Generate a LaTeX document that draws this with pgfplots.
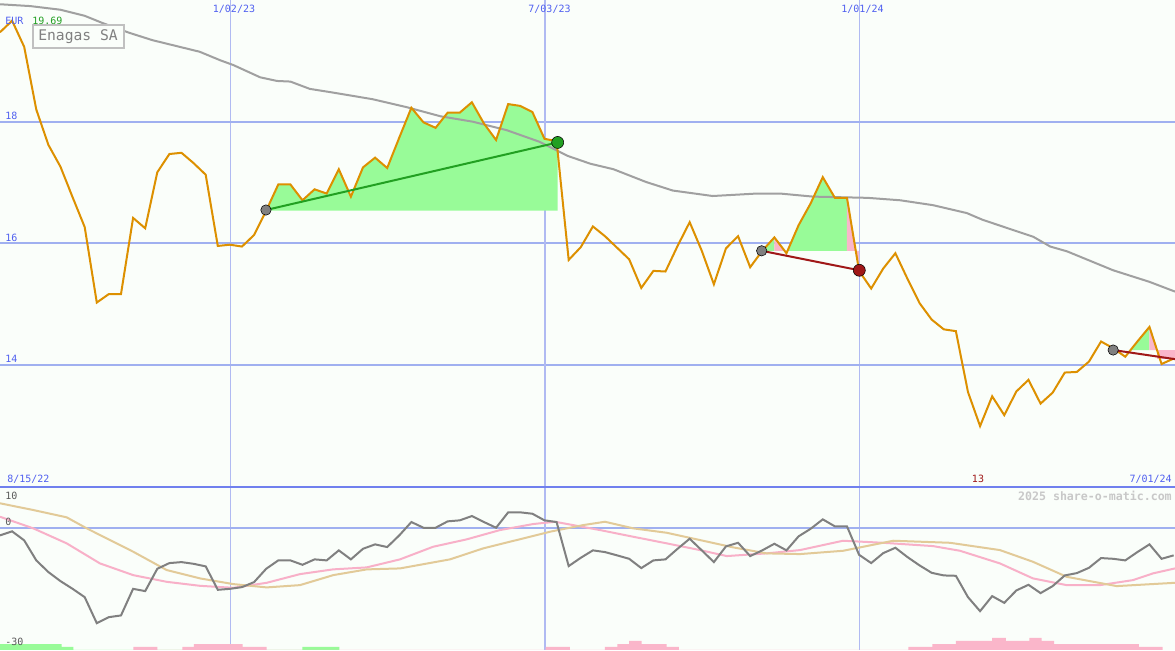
\documentclass[border=0pt]{standalone}
\usepackage{pgfplots}
\pgfplotsset{compat=1.18}
\usepackage{pgfplotstable}
\usepackage{fontspec}
\setmainfont{DejaVu Sans Mono}
\definecolor{bg}{RGB}{250,254,250}
\definecolor{gridb}{RGB}{160,176,240}
\definecolor{gridv}{RGB}{176,186,242}
\definecolor{sep}{RGB}{112,128,238}
\definecolor{lblue}{RGB}{80,96,240}
\definecolor{porange}{RGB}{221,144,0}
\definecolor{magray}{RGB}{160,160,160}
\definecolor{fillg}{RGB}{152,251,152}
\definecolor{fillp}{RGB}{250,182,202}
\definecolor{tgreen}{RGB}{34,160,34}
\definecolor{tred}{RGB}{160,24,24}
\definecolor{dgray}{RGB}{128,128,128}
\definecolor{lpink}{RGB}{248,176,200}
\definecolor{ltan}{RGB}{226,202,152}
\definecolor{wm}{RGB}{200,200,200}
\definecolor{boxgray}{RGB}{192,192,192}
\definecolor{numgray}{RGB}{90,90,90}

\pgfplotstableread{
k p
0 19.47
1 19.66
2 19.23
3 18.20
4 17.62
5 17.26
6 16.76
7 16.27
8 15.03
9 15.17
10 15.17
11 16.42
12 16.25
13 17.17
14 17.47
15 17.49
16 17.32
17 17.13
18 15.96
19 15.98
20 15.95
21 16.14
22 16.54
23 16.97
24 16.97
25 16.71
26 16.89
27 16.82
28 17.22
29 16.77
30 17.25
31 17.41
32 17.24
33 17.74
34 18.23
35 17.99
36 17.90
37 18.15
38 18.15
39 18.32
40 17.97
41 17.70
42 18.29
43 18.26
44 18.16
45 17.72
46 17.68
47 15.73
48 15.94
49 16.28
50 16.12
51 15.93
52 15.74
53 15.27
54 15.55
55 15.54
56 15.96
57 16.35
58 15.88
59 15.33
60 15.92
61 16.12
62 15.61
63 15.88
64 16.10
65 15.84
66 16.30
67 16.66
68 17.09
69 16.75
70 16.75
71 15.55
72 15.26
73 15.59
74 15.84
75 15.42
76 15.02
77 14.75
78 14.59
79 14.56
80 13.56
81 13.00
82 13.49
83 13.18
84 13.57
85 13.76
86 13.37
87 13.55
88 13.88
89 13.89
90 14.06
91 14.39
92 14.28
93 14.14
94 14.39
95 14.63
96 14.02
97 14.11
}\pricetable

\pgfplotstableread{
k p
0 19.93
2.5 19.90
5 19.84
7 19.74
8.5 19.62
10.7 19.46
12.6 19.34
16.5 19.15
18.2 19.01
19.3 18.93
21.5 18.73
22.9 18.67
24 18.66
25.6 18.54
27.5 18.48
30.8 18.37
33.6 18.24
36.4 18.09
39.1 18.00
41.9 17.86
44.6 17.67
46.9 17.44
48.8 17.31
50.7 17.22
53.4 17.01
55.6 16.87
58.9 16.78
62.5 16.82
64.5 16.82
67.2 16.77
71.7 16.75
74.4 16.71
77.1 16.63
79.9 16.50
81.2 16.39
85.4 16.11
86.8 15.95
88.2 15.87
92 15.56
95 15.37
97.11 15.21
}\matable

\pgfplotstableread{
k v
0 -1.87
1 -0.88
2 -3.10
3 -8.01
4 -10.88
5 -13.10
6 -14.99
7 -17.03
8 -23.42
9 -21.94
10 -21.52
11 -14.99
12 -15.55
13 -10.07
14 -8.67
15 -8.43
16 -8.85
17 -9.48
18 -15.23
19 -14.99
20 -14.57
21 -13.34
22 -10.07
23 -8.01
24 -8.01
25 -9.09
26 -7.76
27 -8.01
28 -5.55
29 -7.76
30 -5.16
31 -4.08
32 -4.74
33 -1.87
34 1.40
35 0
36 0
37 1.57
38 1.82
39 2.87
40 1.40
41 0
42 3.78
43 3.78
44 3.44
45 1.82
46 1.40
47 -9.41
48 -7.37
49 -5.55
50 -5.97
51 -6.78
52 -7.62
53 -9.90
54 -8.01
55 -7.76
56 -5.16
57 -2.70
58 -5.55
59 -8.43
60 -4.57
61 -3.69
62 -6.95
63 -5.55
64 -3.93
65 -5.55
66 -2.11
67 -0.25
68 2.06
69 0.34
70 0.34
71 -6.63
72 -8.67
73 -6.22
74 -4.91
75 -7.20
76 -9.24
77 -11.06
78 -11.70
79 -11.79
80 -17.03
81 -20.47
82 -16.78
83 -18.43
84 -15.38
85 -14.00
86 -16.04
87 -14.32
88 -11.70
89 -11.13
90 -9.83
91 -7.44
92 -7.62
93 -8.01
94 -5.97
95 -4.08
96 -7.62
97 -6.78
}\osctable

\pgfplotstableread{
k v
0 2.70
2.75 -0.15
5.51 -3.83
8.26 -8.75
11.0 -11.62
13.78 -13.27
16.53 -14.25
19.28 -14.74
22.04 -13.51
24.79 -11.38
27.52 -10.22
30.31 -9.73
33.06 -7.76
35.79 -4.67
38.57 -2.85
41.32 -0.57
44.07 0.91
45.87 1.47
49.59 -0.57
52.34 -2.21
55.10 -3.83
57.85 -5.48
60.06 -6.95
63.36 -6.29
66.12 -5.48
69.67 -3.19
72.98 -3.69
77.11 -4.50
79.34 -5.65
82.64 -8.75
85.37 -12.43
88.16 -14.08
90.91 -14.08
93.64 -12.85
95.29 -11.20
97.11 -9.98
}\pinktable

\pgfplotstableread{
k v
0 6.00
2.75 4.35
5.51 2.56
7.17 -0.15
11.02 -5.90
13.78 -10.39
16.53 -12.43
19.28 -13.83
22.04 -14.64
24.79 -14.08
27.55 -11.62
30.31 -10.22
33.06 -9.98
37.19 -7.76
39.94 -5.06
42.70 -3.02
45.45 -0.98
48.21 0.66
50.0 1.47
52.34 -0.15
55.10 -1.23
57.85 -3.02
60.60 -4.82
63.36 -6.29
66.12 -6.46
69.69 -5.65
73.83 -3.19
78.51 -3.69
82.64 -5.48
85.37 -8.35
88.16 -12.04
92.29 -14.32
97.11 -13.51
}\tantable

\begin{document}
\begin{tikzpicture}[x=0.75pt,y=0.75pt]
\useasboundingbox (0,0) rectangle (1175,650);
\fill[bg] (0,0) rectangle (1175,650);

% ---------------- main price panel ----------------
\begin{axis}[
  at={(0pt,122.25pt)}, anchor=south west,
  scale only axis, width=881.25pt, height=365.25pt,
  xmin=0, xmax=97.11, ymin=12, ymax=20,
  axis line style={draw=none}, tick style={draw=none},
  xtick={19.09,71.07}, ytick={14,16,18},
  xticklabels={}, yticklabels={},
  xmajorgrids, ymajorgrids,
  major x grid style={gridv, line width=0.75pt},
  major y grid style={gridb, line width=1.5pt},
  extra x ticks={45.04}, extra x tick labels={},
  extra x tick style={major x grid style={gridv, line width=1.5pt}},
]
% fills
\addplot[draw=none, fill=fillg] coordinates {(21.98,16.54)(22,16.54)(23,16.97)(24,16.97)(25,16.71)(26,16.89)(27,16.82)(28,17.22)(29,16.77)(30,17.25)(31,17.41)(32,17.24)(33,17.74)(34,18.23)(35,17.99)(36,17.90)(37,18.15)(38,18.15)(39,18.32)(40,17.97)(41,17.70)(42,18.29)(43,18.26)(44,18.16)(45,17.72)(46,17.68)(46.09,17.66)(46.09,16.54)};
\addplot[draw=none, fill=fillg] coordinates {(63,15.88)(64,16.10)(64,15.88)};
\addplot[draw=none, fill=fillp] coordinates {(64,15.88)(64,16.10)(65,15.84)(65,15.88)};
\addplot[draw=none, fill=fillg] coordinates {(65.09,15.88)(66,16.30)(67,16.66)(68,17.09)(69,16.75)(70,16.75)(70,15.88)};
\addplot[draw=none, fill=fillp] coordinates {(70,15.88)(70,16.75)(71,15.55)(71,15.88)};
\addplot[draw=none, fill=fillg] coordinates {(93.44,14.25)(94,14.39)(95,14.63)(95,14.25)};
\addplot[draw=none, fill=fillp] coordinates {(95,14.25)(95,14.63)(95.62,14.25)};
\addplot[draw=none, fill=fillp] coordinates {(95.62,14.25)(97.11,14.25)(97.11,14.11)(95.62,14.11)};
% moving average
\addplot[magray, line width=1.5pt] table[x=k,y=p] {\matable};
% price
\addplot[porange, line width=1.5pt] table[x=k,y=p] {\pricetable};
% trend lines
\addplot[tgreen, line width=1.5pt] coordinates {(21.98,16.55)(46.09,17.66)};
\addplot[tred, line width=1.5pt] coordinates {(62.95,15.88)(71.02,15.56)};
\addplot[tred, line width=1.5pt] coordinates {(92,14.25)(97.11,14.10)};
% markers
\addplot[only marks, mark=*, mark size=3.9pt, mark options={draw=none, fill=dgray}] coordinates {(21.98,16.55)(62.95,15.88)(92,14.25)};
\addplot[only marks, mark=*, mark size=4.5pt, mark options={draw=none, fill=tgreen}] coordinates {(46.09,17.66)};
\addplot[only marks, mark=*, mark size=4.5pt, mark options={draw=none, fill=tred}] coordinates {(71.02,15.56)};
\end{axis}

% ---------------- lower oscillator panel ----------------
\begin{axis}[
  at={(0pt,0pt)}, anchor=south west,
  scale only axis, width=881.25pt, height=122.25pt,
  xmin=0, xmax=97.11, ymin=-30, ymax=10,
  axis line style={draw=none}, tick style={draw=none},
  xtick={19.09,71.07}, ytick={0},
  xticklabels={}, yticklabels={},
  xmajorgrids, ymajorgrids,
  major x grid style={gridv, line width=0.75pt},
  major y grid style={gridb, line width=1.5pt},
  extra x ticks={45.04}, extra x tick labels={},
  extra x tick style={major x grid style={gridv, line width=1.5pt}},
]
\addplot[const plot, draw=none, fill=fillg] coordinates {(0,-30)(0,-28.53)(5.1,-29.26)(6.06,-30)(25.0,-29.26)(28.05,-30)};
\addplot[const plot, draw=none, fill=fillp] coordinates {(11.02,-30)(11.02,-29.26)(13.0,-30)(15.07,-29.26)(16.03,-28.53)(20.06,-29.26)(22.04,-30)(45.1,-29.26)(47.1,-30)(50.0,-29.26)(51.02,-28.53)(52.0,-27.79)(53.03,-28.53)(55.1,-29.26)(56.1,-30)(75.07,-29.26)(77.05,-28.53)(79.0,-27.79)(82.0,-27.05)(83.14,-27.79)(85.07,-27.05)(86.09,-27.79)(87.11,-28.53)(94.13,-29.26)(96.09,-30)};
\addplot[lpink, line width=1.5pt] table[x=k,y=v] {\pinktable};
\addplot[ltan, line width=1.5pt] table[x=k,y=v] {\tantable};
\addplot[dgray, line width=1.5pt] table[x=k,y=v] {\osctable};
\end{axis}

% separator
\draw[sep, line width=2pt] (0,163) -- (1175,163);

% ---------------- texts ----------------
\begin{scope}[every node/.style={inner sep=0pt, font=\fontsize{7.5}{9}\selectfont}]
\node[lblue] at (234,641) {1/02/23};
\node[lblue] at (549.5,641) {7/03/23};
\node[lblue] at (862.5,641) {1/01/24};
\node[lblue, anchor=west] at (5,629) {EUR};
\node[tgreen, anchor=west] at (32,629) {19.69};
\node[lblue, anchor=west] at (5,534) {18};
\node[lblue, anchor=west] at (5,412) {16};
\node[lblue, anchor=west] at (5,291) {14};
\node[lblue, anchor=west] at (7,171) {8/15/22};
\node[tred] at (978,171) {13};
\node[lblue, anchor=east] at (1172,171) {7/01/24};
\node[numgray, anchor=west] at (5,154) {10};
\node[numgray, anchor=west] at (5,128) {0};
\node[numgray, anchor=west] at (5,8) {-30};
\node[wm, anchor=east, font=\fontsize{8.7}{10}\selectfont\bfseries] at (1172,154.5) {2025 share-o-matic.com};
\end{scope}
\draw[boxgray, line width=1.5pt, fill=bg] (33,625) rectangle (124,602);
\node[dgray, inner sep=0pt, font=\fontsize{11}{13}\selectfont] at (78,613.5) {Enagas SA};
\end{tikzpicture}
\end{document}
